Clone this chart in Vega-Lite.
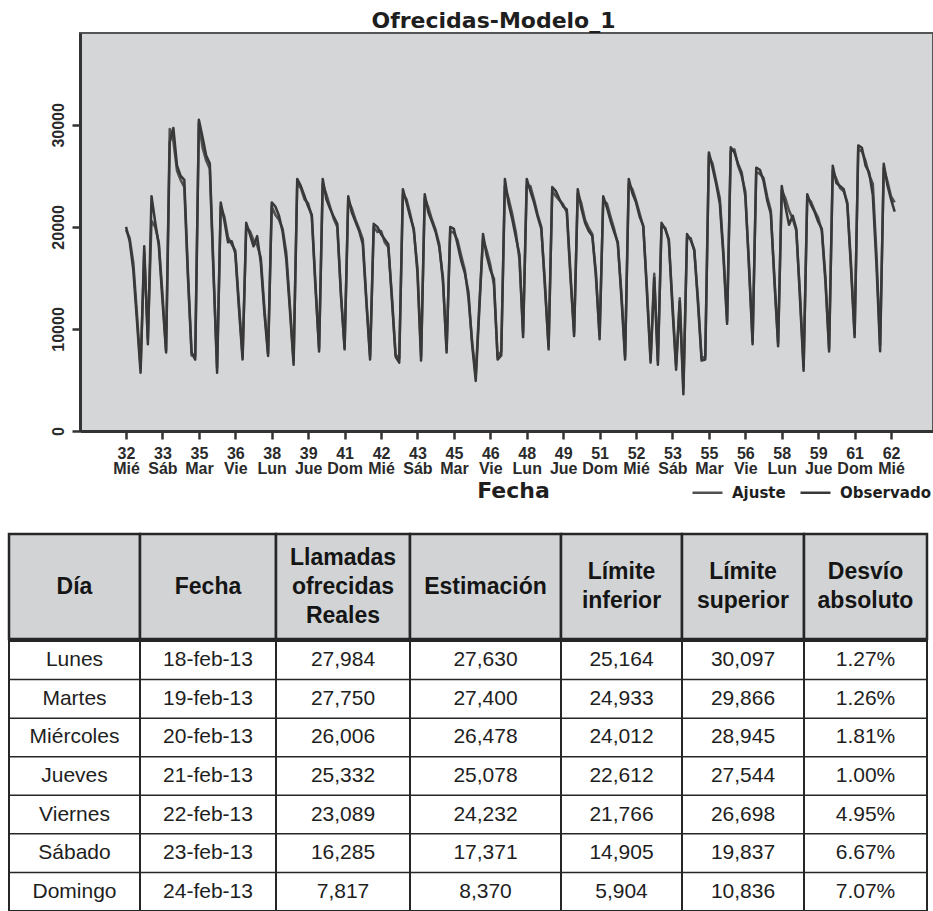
{
  "$schema": "https://vega.github.io/schema/vega-lite/v6.json",
  "background": "white",
  "padding": {"left": 7, "top": 9, "right": 0, "bottom": 0},
  "columns": 1,
  "spacing": 30,
  "datasets": {
    "serie": [
      {"d":0,"Observado":20000,"Ajuste":19700},{"d":1,"Observado":18600,"Ajuste":18900},{"d":2,"Observado":15800,"Ajuste":16500},{"d":3,"Observado":10800,"Ajuste":11500},{"d":4,"Observado":5700,"Ajuste":6200},{"d":5,"Observado":18100,"Ajuste":17500},{"d":6,"Observado":8500,"Ajuste":9000},
      {"d":7,"Observado":23000,"Ajuste":20600},{"d":8,"Observado":20500,"Ajuste":20000},{"d":9,"Observado":18200,"Ajuste":18500},{"d":10,"Observado":12800,"Ajuste":13500},{"d":11,"Observado":7700,"Ajuste":7900},{"d":12,"Observado":28300,"Ajuste":29600},{"d":13,"Observado":29700,"Ajuste":28400},
      {"d":14,"Observado":26000,"Ajuste":25500},{"d":15,"Observado":25000,"Ajuste":24600},{"d":16,"Observado":24600,"Ajuste":23900},{"d":17,"Observado":15500,"Ajuste":15000},{"d":18,"Observado":7700,"Ajuste":7400},{"d":19,"Observado":7000,"Ajuste":7400},{"d":20,"Observado":30500,"Ajuste":30200},
      {"d":21,"Observado":28800,"Ajuste":27800},{"d":22,"Observado":27000,"Ajuste":26500},{"d":23,"Observado":26200,"Ajuste":25700},{"d":24,"Observado":16000,"Ajuste":15500},{"d":25,"Observado":5700,"Ajuste":6200},{"d":26,"Observado":22400,"Ajuste":22000},{"d":27,"Observado":20600,"Ajuste":21000},
      {"d":28,"Observado":18500,"Ajuste":19000},{"d":29,"Observado":18600,"Ajuste":18300},{"d":30,"Observado":17400,"Ajuste":17700},{"d":31,"Observado":12000,"Ajuste":12500},{"d":32,"Observado":7000,"Ajuste":7300},{"d":33,"Observado":20400,"Ajuste":20000},{"d":34,"Observado":19300,"Ajuste":19600},
      {"d":35,"Observado":18100,"Ajuste":18700},{"d":36,"Observado":19100,"Ajuste":18200},{"d":37,"Observado":16500,"Ajuste":17000},{"d":38,"Observado":11500,"Ajuste":12000},{"d":39,"Observado":7350,"Ajuste":7600},{"d":40,"Observado":22400,"Ajuste":22000},{"d":41,"Observado":22000,"Ajuste":21200},
      {"d":42,"Observado":21100,"Ajuste":20700},{"d":43,"Observado":19500,"Ajuste":19800},{"d":44,"Observado":16800,"Ajuste":17500},{"d":45,"Observado":11800,"Ajuste":12300},{"d":46,"Observado":6500,"Ajuste":6900},{"d":47,"Observado":24700,"Ajuste":24200},{"d":48,"Observado":24000,"Ajuste":23800},
      {"d":49,"Observado":23000,"Ajuste":22700},{"d":50,"Observado":22000,"Ajuste":22300},{"d":51,"Observado":21200,"Ajuste":21000},{"d":52,"Observado":14500,"Ajuste":14000},{"d":53,"Observado":7800,"Ajuste":8100},{"d":54,"Observado":24700,"Ajuste":24200},{"d":55,"Observado":22700,"Ajuste":23200},
      {"d":56,"Observado":21800,"Ajuste":22000},{"d":57,"Observado":21000,"Ajuste":20800},{"d":58,"Observado":20300,"Ajuste":20000},{"d":59,"Observado":13500,"Ajuste":13200},{"d":60,"Observado":8000,"Ajuste":8200},{"d":61,"Observado":23000,"Ajuste":22600},{"d":62,"Observado":21400,"Ajuste":21800},
      {"d":63,"Observado":20500,"Ajuste":20700},{"d":64,"Observado":19600,"Ajuste":19800},{"d":65,"Observado":18300,"Ajuste":18800},{"d":66,"Observado":12500,"Ajuste":12800},{"d":67,"Observado":7000,"Ajuste":7300},{"d":68,"Observado":20300,"Ajuste":20000},{"d":69,"Observado":20000,"Ajuste":19500},
      {"d":70,"Observado":19300,"Ajuste":19600},{"d":71,"Observado":18800,"Ajuste":18500},{"d":72,"Observado":18300,"Ajuste":18000},{"d":73,"Observado":12800,"Ajuste":13200},{"d":74,"Observado":7300,"Ajuste":7500},{"d":75,"Observado":6700,"Ajuste":7100},{"d":76,"Observado":23700,"Ajuste":23200},
      {"d":77,"Observado":22400,"Ajuste":22700},{"d":78,"Observado":21000,"Ajuste":21300},{"d":79,"Observado":19800,"Ajuste":19600},{"d":80,"Observado":15500,"Ajuste":16000},{"d":81,"Observado":6900,"Ajuste":7300},{"d":82,"Observado":23200,"Ajuste":22800},{"d":83,"Observado":21400,"Ajuste":21900},
      {"d":84,"Observado":20500,"Ajuste":20700},{"d":85,"Observado":19500,"Ajuste":19700},{"d":86,"Observado":18000,"Ajuste":18300},{"d":87,"Observado":15000,"Ajuste":14600},{"d":88,"Observado":7700,"Ajuste":8000},{"d":89,"Observado":20000,"Ajuste":19600},{"d":90,"Observado":19800,"Ajuste":19400},
      {"d":91,"Observado":18300,"Ajuste":18700},{"d":92,"Observado":16700,"Ajuste":17200},{"d":93,"Observado":15500,"Ajuste":15800},{"d":94,"Observado":13600,"Ajuste":13000},{"d":95,"Observado":8500,"Ajuste":8800},{"d":96,"Observado":4900,"Ajuste":5400},{"d":97,"Observado":12000,"Ajuste":12500},
      {"d":98,"Observado":19300,"Ajuste":18800},{"d":99,"Observado":17200,"Ajuste":17700},{"d":100,"Observado":15800,"Ajuste":16300},{"d":101,"Observado":14900,"Ajuste":14300},{"d":102,"Observado":7000,"Ajuste":7300},{"d":103,"Observado":7400,"Ajuste":7800},{"d":104,"Observado":24700,"Ajuste":24000},
      {"d":105,"Observado":22300,"Ajuste":22800},{"d":106,"Observado":20800,"Ajuste":21300},{"d":107,"Observado":19000,"Ajuste":19500},{"d":108,"Observado":17300,"Ajuste":16800},{"d":109,"Observado":9200,"Ajuste":9600},{"d":110,"Observado":24700,"Ajuste":24000},{"d":111,"Observado":23500,"Ajuste":24000},
      {"d":112,"Observado":22400,"Ajuste":22700},{"d":113,"Observado":21000,"Ajuste":21200},{"d":114,"Observado":19800,"Ajuste":20000},{"d":115,"Observado":14500,"Ajuste":14000},{"d":116,"Observado":8000,"Ajuste":8300},{"d":117,"Observado":23900,"Ajuste":23500},{"d":118,"Observado":23500,"Ajuste":23000},
      {"d":119,"Observado":22700,"Ajuste":22600},{"d":120,"Observado":22000,"Ajuste":22200},{"d":121,"Observado":21700,"Ajuste":21400},{"d":122,"Observado":15500,"Ajuste":15000},{"d":123,"Observado":9300,"Ajuste":9600},{"d":124,"Observado":23700,"Ajuste":23300},{"d":125,"Observado":21800,"Ajuste":22300},
      {"d":126,"Observado":20400,"Ajuste":20700},{"d":127,"Observado":19600,"Ajuste":19900},{"d":128,"Observado":19100,"Ajuste":19300},{"d":129,"Observado":15500,"Ajuste":15000},{"d":130,"Observado":9000,"Ajuste":9400},{"d":131,"Observado":23000,"Ajuste":22600},{"d":132,"Observado":21900,"Ajuste":22300},
      {"d":133,"Observado":20600,"Ajuste":21000},{"d":134,"Observado":19500,"Ajuste":19800},{"d":135,"Observado":18500,"Ajuste":18300},{"d":136,"Observado":13000,"Ajuste":13500},{"d":137,"Observado":7000,"Ajuste":7300},{"d":138,"Observado":24700,"Ajuste":24200},{"d":139,"Observado":23300,"Ajuste":23700},
      {"d":140,"Observado":22400,"Ajuste":22600},{"d":141,"Observado":21000,"Ajuste":21300},{"d":142,"Observado":20100,"Ajuste":20000},{"d":143,"Observado":13500,"Ajuste":14000},{"d":144,"Observado":6700,"Ajuste":7000},{"d":145,"Observado":15000,"Ajuste":15400},{"d":146,"Observado":6500,"Ajuste":6900},
      {"d":147,"Observado":20400,"Ajuste":20000},{"d":148,"Observado":19800,"Ajuste":19900},{"d":149,"Observado":18800,"Ajuste":18600},{"d":150,"Observado":12000,"Ajuste":12600},{"d":151,"Observado":6000,"Ajuste":6400},{"d":152,"Observado":12700,"Ajuste":13000},{"d":153,"Observado":3600,"Ajuste":4200},
      {"d":154,"Observado":19300,"Ajuste":18900},{"d":155,"Observado":18700,"Ajuste":18900},{"d":156,"Observado":17800,"Ajuste":17600},{"d":157,"Observado":12500,"Ajuste":13000},{"d":158,"Observado":6900,"Ajuste":7100},{"d":159,"Observado":7000,"Ajuste":7300},{"d":160,"Observado":27300,"Ajuste":27000},
      {"d":161,"Observado":25800,"Ajuste":26200},{"d":162,"Observado":24200,"Ajuste":24500},{"d":163,"Observado":22300,"Ajuste":22800},{"d":164,"Observado":17000,"Ajuste":17500},{"d":165,"Observado":10500,"Ajuste":10800},{"d":166,"Observado":27800,"Ajuste":27400},{"d":167,"Observado":27300,"Ajuste":27600},
      {"d":168,"Observado":26200,"Ajuste":26000},{"d":169,"Observado":25300,"Ajuste":25000},{"d":170,"Observado":23000,"Ajuste":23500},{"d":171,"Observado":16500,"Ajuste":16000},{"d":172,"Observado":8500,"Ajuste":8800},{"d":173,"Observado":25800,"Ajuste":25400},{"d":174,"Observado":25600,"Ajuste":25200},
      {"d":175,"Observado":24500,"Ajuste":24800},{"d":176,"Observado":22600,"Ajuste":23000},{"d":177,"Observado":21300,"Ajuste":21600},{"d":178,"Observado":15000,"Ajuste":14500},{"d":179,"Observado":8300,"Ajuste":8600},{"d":180,"Observado":24000,"Ajuste":23600},{"d":181,"Observado":22000,"Ajuste":22800},
      {"d":182,"Observado":20200,"Ajuste":21600},{"d":183,"Observado":21100,"Ajuste":20800},{"d":184,"Observado":19800,"Ajuste":19600},{"d":185,"Observado":13000,"Ajuste":13500},{"d":186,"Observado":5900,"Ajuste":6300},{"d":187,"Observado":23200,"Ajuste":22800},{"d":188,"Observado":22200,"Ajuste":22500},
      {"d":189,"Observado":21500,"Ajuste":21600},{"d":190,"Observado":20500,"Ajuste":20900},{"d":191,"Observado":19800,"Ajuste":19600},{"d":192,"Observado":15000,"Ajuste":14500},{"d":193,"Observado":7800,"Ajuste":8100},{"d":194,"Observado":26000,"Ajuste":25500},{"d":195,"Observado":24300,"Ajuste":24700},
      {"d":196,"Observado":24000,"Ajuste":23800},{"d":197,"Observado":23700,"Ajuste":23500},{"d":198,"Observado":22200,"Ajuste":22400},{"d":199,"Observado":16000,"Ajuste":16500},{"d":200,"Observado":9200,"Ajuste":9500},{"d":201,"Observado":27984,"Ajuste":27630},{"d":202,"Observado":27750,"Ajuste":27400},
      {"d":203,"Observado":26006,"Ajuste":26478},{"d":204,"Observado":25332,"Ajuste":25078},{"d":205,"Observado":23089,"Ajuste":24232},{"d":206,"Observado":16285,"Ajuste":17371},{"d":207,"Observado":7817,"Ajuste":8370},{"d":208,"Observado":26200,"Ajuste":25800},{"d":209,"Observado":24100,"Ajuste":24500},
      {"d":210,"Observado":22700,"Ajuste":23000},{"d":211,"Observado":21500,"Ajuste":22400}
    ],
    "tabla": [
      {"dia":"Lunes","fecha":"18-feb-13","reales":"27,984","estimacion":"27,630","inferior":"25,164","superior":"30,097","desvio":"1.27%"},
      {"dia":"Martes","fecha":"19-feb-13","reales":"27,750","estimacion":"27,400","inferior":"24,933","superior":"29,866","desvio":"1.26%"},
      {"dia":"Miércoles","fecha":"20-feb-13","reales":"26,006","estimacion":"26,478","inferior":"24,012","superior":"28,945","desvio":"1.81%"},
      {"dia":"Jueves","fecha":"21-feb-13","reales":"25,332","estimacion":"25,078","inferior":"22,612","superior":"27,544","desvio":"1.00%"},
      {"dia":"Viernes","fecha":"22-feb-13","reales":"23,089","estimacion":"24,232","inferior":"21,766","superior":"26,698","desvio":"4.95%"},
      {"dia":"Sábado","fecha":"23-feb-13","reales":"16,285","estimacion":"17,371","inferior":"14,905","superior":"19,837","desvio":"6.67%"},
      {"dia":"Domingo","fecha":"24-feb-13","reales":"7,817","estimacion":"8,370","inferior":"5,904","superior":"10,836","desvio":"7.07%"}
    ],
    "encabezados": [
      {"col":"dia","texto":"Día"},
      {"col":"fecha","texto":"Fecha"},
      {"col":"reales","texto":"Llamadas\nofrecidas\nReales"},
      {"col":"estimacion","texto":"Estimación"},
      {"col":"inferior","texto":"Límite\ninferior"},
      {"col":"superior","texto":"Límite\nsuperior"},
      {"col":"desvio","texto":"Desvío\nabsoluto"}
    ],
    "vacio": []
  },
  "concat": [
    {
      "spacing": 0,
      "hconcat": [
        {
          "width": 40,
          "height": 398,
          "data": {"name": "vacio"},
          "mark": {"type": "point"},
          "view": {"fill": "white", "stroke": null}
        },
        {
          "width": 853,
          "height": 398,
          "title": {"text": "Ofrecidas-Modelo_1", "font": "DejaVu Sans", "fontSize": 22, "fontWeight": "bold", "color": "#1e1e1e", "anchor": "middle", "offset": 0, "dx": -13},
          "view": {"fill": "#d5d6d8", "stroke": "#555555", "strokeWidth": 2},
          "data": {"name": "serie"},
          "transform": [{"fold": ["Ajuste", "Observado"], "as": ["serie", "valor"]}],
          "mark": {"type": "line", "strokeWidth": 2.5, "strokeJoin": "round"},
          "encoding": {
            "x": {
              "field": "d", "type": "quantitative",
              "scale": {"domain": [-12.63, 221.52], "nice": false, "zero": false},
              "axis": {
                "values": [0,10,20,30,40,50,60,70,80,90,100,110,120,130,140,150,160,170,180,190,200,210],
                "labelExpr": "[['32','Mié'],['33','Sáb'],['35','Mar'],['36','Vie'],['38','Lun'],['39','Jue'],['41','Dom'],['42','Mié'],['43','Sáb'],['45','Mar'],['46','Vie'],['48','Lun'],['49','Jue'],['51','Dom'],['52','Mié'],['53','Sáb'],['55','Mar'],['56','Vie'],['58','Lun'],['59','Jue'],['61','Dom'],['62','Mié']][round(datum.value/10)]",
                "title": "Fecha", "titleFont": "DejaVu Sans", "titleFontSize": 22, "titleFontWeight": "bold", "titleColor": "#1e1e1e", "titlePadding": 4, "titleX": 433,
                "labelFont": "Liberation Sans", "labelFontSize": 16, "labelFontWeight": "bold", "labelColor": "#2a2a2a", "labelLineHeight": 15, "labelPadding": 6,
                "labelOverlap": false, "labelFlush": false, "labelBound": false,
                "tickSize": 8, "tickWidth": 2.5, "tickColor": "#333333", "domainColor": "#333333", "domainWidth": 3, "grid": false
              }
            },
            "y": {
              "field": "valor", "type": "quantitative",
              "scale": {"domain": [0, 39000], "nice": false},
              "axis": {
                "values": [0, 10000, 20000, 30000], "format": "d",
                "labelAngle": 270, "labelAlign": "center", "labelBaseline": "bottom",
                "labelFont": "Liberation Sans", "labelFontSize": 16, "labelFontWeight": "bold", "labelColor": "#2a2a2a", "labelPadding": 6,
                "tickSize": 8, "tickWidth": 2.5, "tickColor": "#333333", "domainColor": "#333333", "domainWidth": 3, "grid": false,
                "title": null
              }
            },
            "color": {
              "field": "serie", "type": "nominal",
              "scale": {"domain": ["Ajuste", "Observado"], "range": ["#505050", "#383838"]},
              "legend": {
                "orient": "none", "legendX": 682, "legendY": 443, "direction": "horizontal", "title": null,
                "symbolType": "stroke", "symbolSize": 900, "symbolStrokeWidth": 2.5,
                "labelFont": "DejaVu Sans", "labelFontSize": 15, "labelFontWeight": "bold", "labelColor": "#1e1e1e",
                "labelOffset": 8, "columnPadding": 9
              }
            }
          }
        }
      ]
    },
    {
      "spacing": -2,
      "vconcat": [
        {
          "spacing": 0, "bounds": "flush",
          "hconcat": [
            {"width":131,"height":105,"data":{"name":"encabezados"},"transform":[{"filter":"datum.col == 'dia'"}],"view":{"fill":"#d1d3d4","stroke":"#262626","strokeWidth":2.5},"mark":{"type":"text","font":"Liberation Sans","fontWeight":"bold","fontSize":23,"lineHeight":29,"lineBreak":"\n","color":"#151515"},"encoding":{"text":{"field":"texto"}}},
            {"width":136,"height":105,"data":{"name":"encabezados"},"transform":[{"filter":"datum.col == 'fecha'"}],"view":{"fill":"#d1d3d4","stroke":"#262626","strokeWidth":2.5},"mark":{"type":"text","font":"Liberation Sans","fontWeight":"bold","fontSize":23,"lineHeight":29,"lineBreak":"\n","color":"#151515"},"encoding":{"text":{"field":"texto"}}},
            {"width":134,"height":105,"data":{"name":"encabezados"},"transform":[{"filter":"datum.col == 'reales'"}],"view":{"fill":"#d1d3d4","stroke":"#262626","strokeWidth":2.5},"mark":{"type":"text","font":"Liberation Sans","fontWeight":"bold","fontSize":23,"lineHeight":29,"lineBreak":"\n","dy":-29,"color":"#151515"},"encoding":{"text":{"field":"texto"}}},
            {"width":151,"height":105,"data":{"name":"encabezados"},"transform":[{"filter":"datum.col == 'estimacion'"}],"view":{"fill":"#d1d3d4","stroke":"#262626","strokeWidth":2.5},"mark":{"type":"text","font":"Liberation Sans","fontWeight":"bold","fontSize":23,"lineHeight":29,"lineBreak":"\n","color":"#151515"},"encoding":{"text":{"field":"texto"}}},
            {"width":121,"height":105,"data":{"name":"encabezados"},"transform":[{"filter":"datum.col == 'inferior'"}],"view":{"fill":"#d1d3d4","stroke":"#262626","strokeWidth":2.5},"mark":{"type":"text","font":"Liberation Sans","fontWeight":"bold","fontSize":23,"lineHeight":29,"lineBreak":"\n","dy":-14.5,"color":"#151515"},"encoding":{"text":{"field":"texto"}}},
            {"width":122,"height":105,"data":{"name":"encabezados"},"transform":[{"filter":"datum.col == 'superior'"}],"view":{"fill":"#d1d3d4","stroke":"#262626","strokeWidth":2.5},"mark":{"type":"text","font":"Liberation Sans","fontWeight":"bold","fontSize":23,"lineHeight":29,"lineBreak":"\n","dy":-14.5,"color":"#151515"},"encoding":{"text":{"field":"texto"}}},
            {"width":123,"height":105,"data":{"name":"encabezados"},"transform":[{"filter":"datum.col == 'desvio'"}],"view":{"fill":"#d1d3d4","stroke":"#262626","strokeWidth":2.5},"mark":{"type":"text","font":"Liberation Sans","fontWeight":"bold","fontSize":23,"lineHeight":29,"lineBreak":"\n","dy":-14.5,"color":"#151515"},"encoding":{"text":{"field":"texto"}}}
          ]
        },
        {
          "spacing": 0, "bounds": "flush",
          "hconcat": [
            {"width":131,"height":270,"data":{"name":"tabla"},"view":{"fill":"white","stroke":"#262626","strokeWidth":2},"encoding":{"y":{"field":"dia","type":"nominal","sort":null,"axis":null,"scale":{"type":"band","paddingInner":0,"paddingOuter":0}}},"layer":[{"mark":{"type":"rule","color":"#262626","strokeWidth":1.5},"encoding":{"y":{"field":"dia","type":"nominal","sort":null,"bandPosition":0,"axis":null,"scale":{"type":"band","paddingInner":0,"paddingOuter":0}}}},{"mark":{"type":"text","font":"Liberation Sans","fontSize":21,"color":"#1e1e1e"},"encoding":{"text":{"field":"dia"}}}]},
            {"width":136,"height":270,"data":{"name":"tabla"},"view":{"fill":"white","stroke":"#262626","strokeWidth":2},"encoding":{"y":{"field":"dia","type":"nominal","sort":null,"axis":null,"scale":{"type":"band","paddingInner":0,"paddingOuter":0}}},"layer":[{"mark":{"type":"rule","color":"#262626","strokeWidth":1.5},"encoding":{"y":{"field":"dia","type":"nominal","sort":null,"bandPosition":0,"axis":null,"scale":{"type":"band","paddingInner":0,"paddingOuter":0}}}},{"mark":{"type":"text","font":"Liberation Sans","fontSize":21,"color":"#1e1e1e"},"encoding":{"text":{"field":"fecha"}}}]},
            {"width":134,"height":270,"data":{"name":"tabla"},"view":{"fill":"white","stroke":"#262626","strokeWidth":2},"encoding":{"y":{"field":"dia","type":"nominal","sort":null,"axis":null,"scale":{"type":"band","paddingInner":0,"paddingOuter":0}}},"layer":[{"mark":{"type":"rule","color":"#262626","strokeWidth":1.5},"encoding":{"y":{"field":"dia","type":"nominal","sort":null,"bandPosition":0,"axis":null,"scale":{"type":"band","paddingInner":0,"paddingOuter":0}}}},{"mark":{"type":"text","font":"Liberation Sans","fontSize":21,"color":"#1e1e1e"},"encoding":{"text":{"field":"reales"}}}]},
            {"width":151,"height":270,"data":{"name":"tabla"},"view":{"fill":"white","stroke":"#262626","strokeWidth":2},"encoding":{"y":{"field":"dia","type":"nominal","sort":null,"axis":null,"scale":{"type":"band","paddingInner":0,"paddingOuter":0}}},"layer":[{"mark":{"type":"rule","color":"#262626","strokeWidth":1.5},"encoding":{"y":{"field":"dia","type":"nominal","sort":null,"bandPosition":0,"axis":null,"scale":{"type":"band","paddingInner":0,"paddingOuter":0}}}},{"mark":{"type":"text","font":"Liberation Sans","fontSize":21,"color":"#1e1e1e"},"encoding":{"text":{"field":"estimacion"}}}]},
            {"width":121,"height":270,"data":{"name":"tabla"},"view":{"fill":"white","stroke":"#262626","strokeWidth":2},"encoding":{"y":{"field":"dia","type":"nominal","sort":null,"axis":null,"scale":{"type":"band","paddingInner":0,"paddingOuter":0}}},"layer":[{"mark":{"type":"rule","color":"#262626","strokeWidth":1.5},"encoding":{"y":{"field":"dia","type":"nominal","sort":null,"bandPosition":0,"axis":null,"scale":{"type":"band","paddingInner":0,"paddingOuter":0}}}},{"mark":{"type":"text","font":"Liberation Sans","fontSize":21,"color":"#1e1e1e"},"encoding":{"text":{"field":"inferior"}}}]},
            {"width":122,"height":270,"data":{"name":"tabla"},"view":{"fill":"white","stroke":"#262626","strokeWidth":2},"encoding":{"y":{"field":"dia","type":"nominal","sort":null,"axis":null,"scale":{"type":"band","paddingInner":0,"paddingOuter":0}}},"layer":[{"mark":{"type":"rule","color":"#262626","strokeWidth":1.5},"encoding":{"y":{"field":"dia","type":"nominal","sort":null,"bandPosition":0,"axis":null,"scale":{"type":"band","paddingInner":0,"paddingOuter":0}}}},{"mark":{"type":"text","font":"Liberation Sans","fontSize":21,"color":"#1e1e1e"},"encoding":{"text":{"field":"superior"}}}]},
            {"width":123,"height":270,"data":{"name":"tabla"},"view":{"fill":"white","stroke":"#262626","strokeWidth":2},"encoding":{"y":{"field":"dia","type":"nominal","sort":null,"axis":null,"scale":{"type":"band","paddingInner":0,"paddingOuter":0}}},"layer":[{"mark":{"type":"rule","color":"#262626","strokeWidth":1.5},"encoding":{"y":{"field":"dia","type":"nominal","sort":null,"bandPosition":0,"axis":null,"scale":{"type":"band","paddingInner":0,"paddingOuter":0}}}},{"mark":{"type":"text","font":"Liberation Sans","fontSize":21,"color":"#1e1e1e"},"encoding":{"text":{"field":"desvio"}}}]}
          ]
        }
      ]
    }
  ]
}
